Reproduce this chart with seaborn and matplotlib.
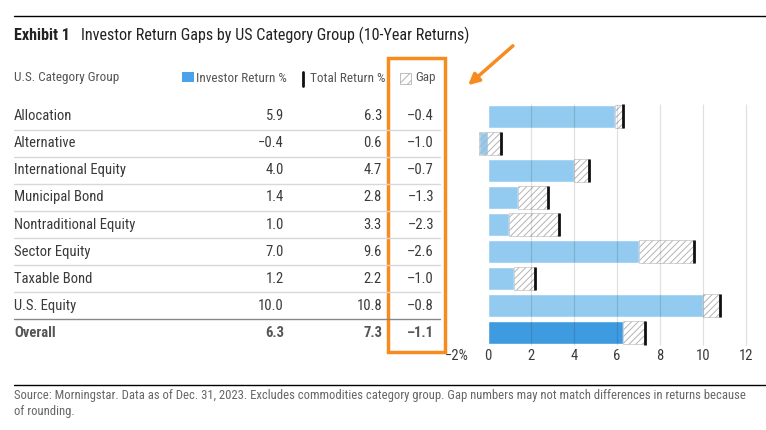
import matplotlib
matplotlib.use("Agg")
import matplotlib.pyplot as plt
from matplotlib import font_manager
from matplotlib.lines import Line2D
from matplotlib.patches import Rectangle
from matplotlib.transforms import blended_transform_factory
import pandas as pd
import seaborn as sns

# Chart data
categories = ["Allocation", "Alternative", "International Equity", "Municipal Bond",
              "Nontraditional Equity", "Sector Equity", "Taxable Bond", "U.S. Equity", "Overall"]
investor_return = [5.9, -0.4, 4.0, 1.4, 1.0, 7.0, 1.2, 10.0, 6.3]
total_return = [6.3, 0.6, 4.7, 2.8, 3.3, 9.6, 2.2, 10.8, 7.3]
gap = [-0.4, -1.0, -0.7, -1.3, -2.3, -2.6, -1.0, -0.8, -1.1]
x_ticks = [-2, 0, 2, 4, 6, 8, 10, 12]
x_tick_labels = ["\u22122%", "0", "2", "4", "6", "8", "10", "12"]

W, H = 766, 430


def fx(px):
    return px / W


def fy(py):
    return 1 - py / H


sns.set_theme(style="white")
installed = {f.name for f in font_manager.fontManager.ttflist}
main_font = "Roboto"
for cand in ["Roboto Condensed", "Liberation Sans Narrow", "Open Sans Condensed"]:
    if cand in installed:
        main_font = cand
        break
narrow = main_font != "Roboto"
plt.rcParams["font.family"] = [main_font, "DejaVu Sans"]
plt.rcParams["hatch.linewidth"] = 0.7
s = 1.0 if narrow else 0.86

BLUE = "#92CBEF"
BLUE_DARK = "#3F9BE0"
ORANGE = "#F68B1F"
TEXT = "#3a3a3a"
HATCH = "#b4b4b4"

df = pd.DataFrame({"category": categories, "investor": investor_return, "total": total_return})

fig = plt.figure(figsize=(W / 100, H / 100), dpi=100)
ax = fig.add_axes([fx(445), fy(346.5), 14.3 * 21.5 / W, (346.5 - 102.5) / H])

colors = [BLUE] * (len(categories) - 1) + [BLUE_DARK]
sns.barplot(data=df, x="investor", y="category", hue="category", palette=colors,
            legend=False, width=0.85, ax=ax, saturation=1, zorder=1)

ypos = list(range(len(categories)))
gap_width = [t - i for t, i in zip(total_return, investor_return)]
ax.barh(ypos, gap_width, left=investor_return, height=0.85, facecolor="none",
        edgecolor=HATCH, hatch="/////", linewidth=0.4, zorder=2)
ax.vlines(total_return, [y - 0.43 for y in ypos], [y + 0.43 for y in ypos],
          color="#111111", lw=2, zorder=4)
ax.vlines(x_ticks[2:], -0.45, len(categories) - 0.55, color="black", alpha=0.12,
          lw=0.9, zorder=3)

ax.set_xlim(-2, 12.3)
ax.set_ylim(len(categories) - 0.5, -0.5)
ax.set_xticks(x_ticks, x_tick_labels)
ax.tick_params(axis="x", length=0, pad=2, labelsize=10.5 * s, colors=TEXT)
ax.get_xticklabels()[0].set_horizontalalignment("left")
ax.set_yticks([])
ax.set_xlabel("")
ax.set_ylabel("")
for sp in ax.spines.values():
    sp.set_visible(False)

# Table on the left
tr = blended_transform_factory(fig.transFigure, ax.transData)
for i, cat in enumerate(categories):
    last = i == len(categories) - 1
    kw = dict(transform=tr, va="center", fontsize=10.5 * s,
              color="#555555" if last else TEXT, fontweight="bold" if last else "normal")
    fig.text(fx(14), i, cat, ha="left", **kw)
    fig.text(fx(284), i, f"{investor_return[i]:.1f}".replace("-", "\u2212"), ha="right", **kw)
    fig.text(fx(382), i, f"{total_return[i]:.1f}".replace("-", "\u2212"), ha="right", **kw)
    fig.text(fx(434), i, f"{gap[i]:.1f}".replace("-", "\u2013"), ha="right", **kw)
    if i < len(categories) - 1:
        fig.add_artist(Line2D([fx(14), fx(440)], [i + 0.5, i + 0.5], transform=tr,
                              color="#888888" if i == len(categories) - 2 else "#d8d8d8",
                              lw=1))

# Header row / legend
hy = fy(78)
hkw = dict(va="center", fontsize=9.5 * s, color="#555555")
fig.text(fx(14), hy, "U.S. Category Group", ha="left", **hkw)
fig.add_artist(Rectangle((fx(182), fy(82)), fx(12), 10 / H, transform=fig.transFigure,
                         facecolor="#4AA3EA", edgecolor="none"))
fig.text(fx(196), hy, "Investor Return %", ha="left", **hkw)
fig.add_artist(Line2D([fx(303), fx(303)], [fy(86), fy(72)], transform=fig.transFigure,
                      color="#111111", lw=2))
fig.text(fx(310), hy, "Total Return %", ha="left", **hkw)
fig.add_artist(Rectangle((fx(400), fy(84)), fx(11), 11 / H, transform=fig.transFigure,
                         facecolor="white", edgecolor=HATCH, hatch="////", lw=0.6))
fig.text(fx(415), hy, "Gap", ha="left", **hkw)

# Orange highlight box and arrow
fig.add_artist(Rectangle((fx(388), fy(352)), fx(57), 294 / H, transform=fig.transFigure,
                         fill=False, edgecolor=ORANGE, lw=2.5))
fig.add_artist(matplotlib.patches.FancyArrowPatch(
    (fx(515), fy(44)), (fx(466), fy(87)), transform=fig.transFigure,
    arrowstyle="-|>", mutation_scale=16, color=ORANGE, lw=2.5))

# Title and rules
fig.add_artist(Line2D([fx(14), 1], [fy(16), fy(16)], transform=fig.transFigure,
                      color="black", lw=1))
fig.text(fx(14), fy(35), "Exhibit 1", ha="left", va="center", fontsize=11.6 * s,
         fontweight="bold", color="#222222")
fig.text(fx(81), fy(35), "Investor Return Gaps by US Category Group (10-Year Returns)",
         ha="left", va="center", fontsize=11.6 * s, color="#222222")

fig.add_artist(Line2D([fx(14), 1], [fy(385), fy(385)], transform=fig.transFigure,
                      color="black", lw=1))
src_kw = dict(ha="left", va="center", fontsize=9.1 * s, color="#666666")
fig.text(fx(14), fy(396), "Source: Morningstar. Data as of Dec. 31, 2023. Excludes commodities "
         "category group. Gap numbers may not match differences in returns because", **src_kw)
fig.text(fx(14), fy(412), "of rounding.", **src_kw)

fig.savefig("out.png", dpi=100)
